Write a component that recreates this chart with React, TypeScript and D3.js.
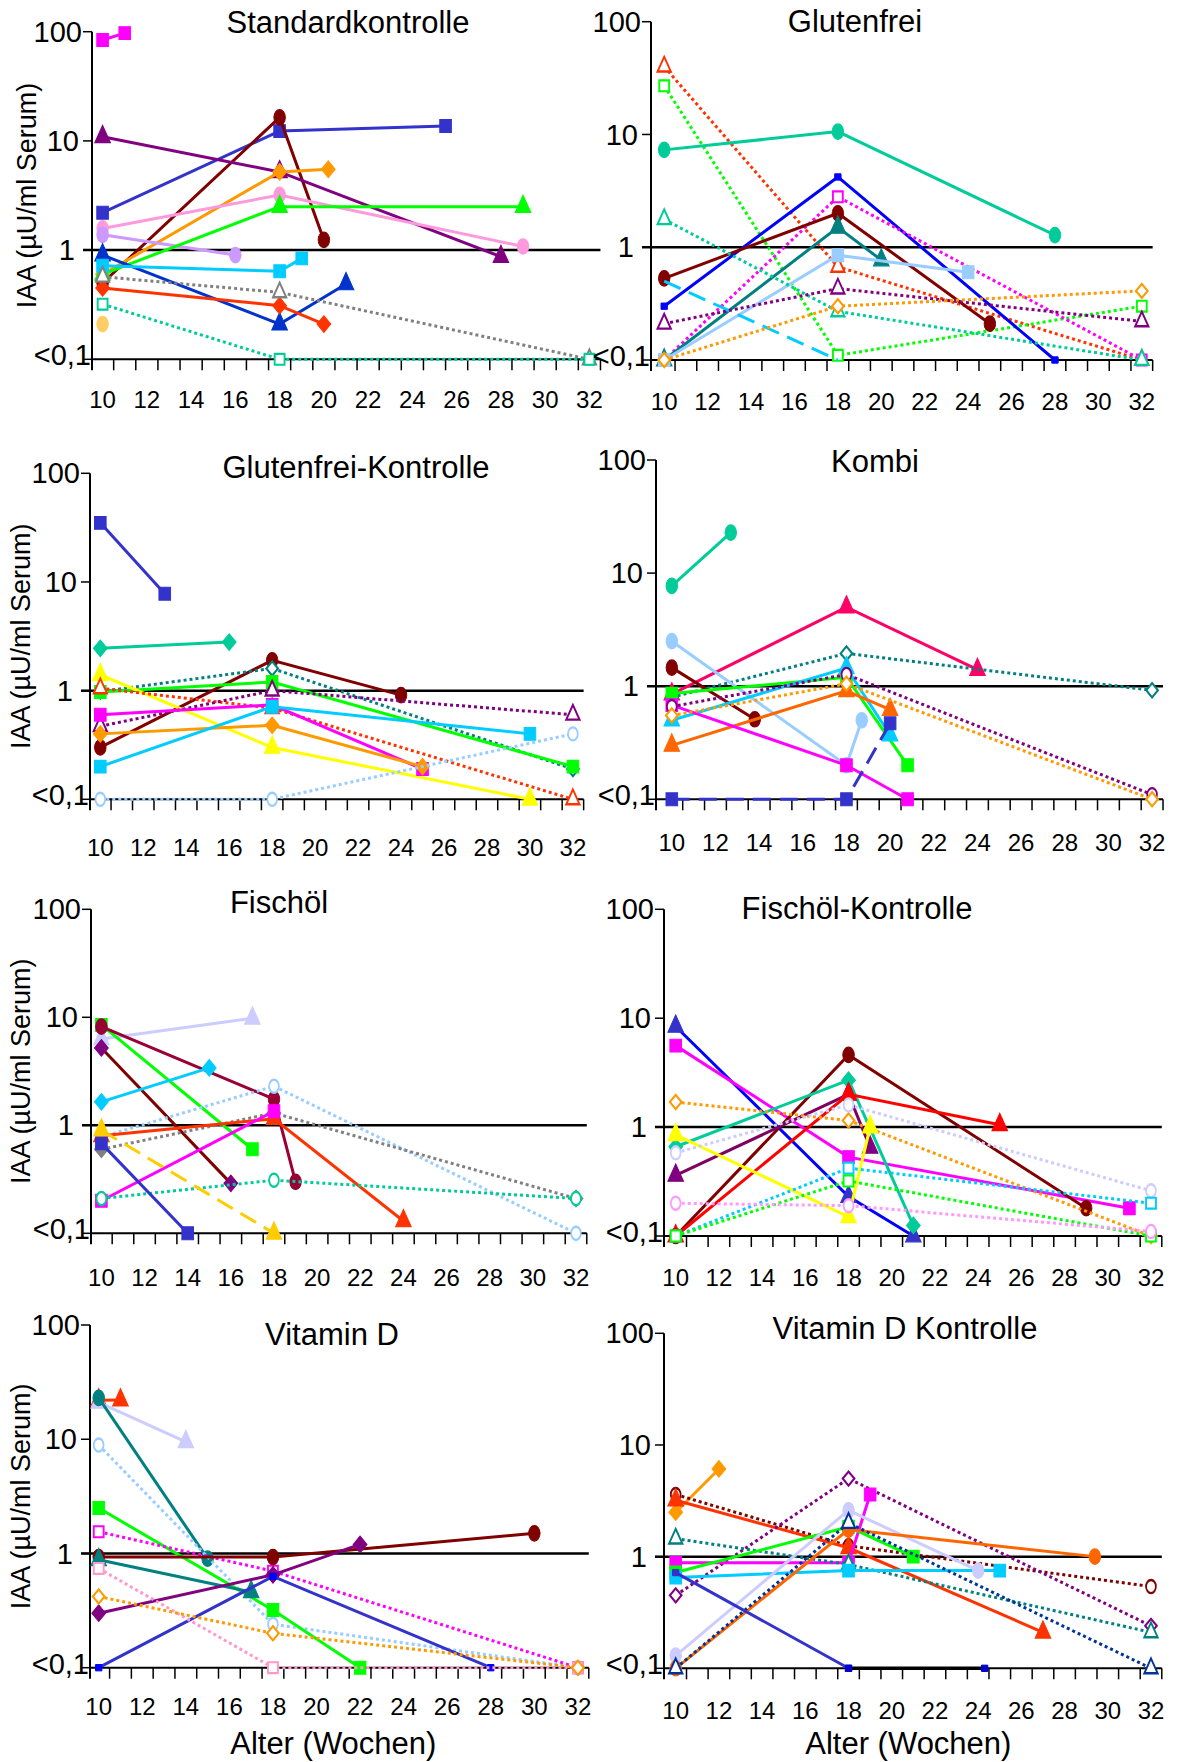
import React from "react";
import * as d3 from "d3";

const W = 1178;
const H = 1762;
const FONT = "'Liberation Sans', Arial, Helvetica, sans-serif";

const titles = [
  "Standardkontrolle",
  "Glutenfrei",
  "Glutenfrei-Kontrolle",
  "Kombi",
  "Fischöl",
  "Fischöl-Kontrolle",
  "Vitamin D",
  "Vitamin D Kontrolle",
];
const weekLabels = [10, 12, 14, 16, 18, 20, 22, 24, 26, 28, 30, 32];
const yTicks = [0.1, 1, 10, 100];
const yTickLabels = ["<0,1", "1", "10", "100"];
const yAxisLabel = "IAA (µU/ml Serum)";
const xAxisLabel = "Alter (Wochen)";

// [Woche, IAA] je Tier; <0,1 als 0.1
const stdPoints = [
  [[10, 84], [11, 97]],
  [[10, 2.2], [18, 12.3], [25.5, 13.7]],
  [[10, 0.5], [18, 16.4], [20, 1.24]],
  [[10, 10.9], [18, 5.2], [28, 0.87]],
  [[10, 0.6], [18, 5.2], [20.2, 5.5]],
  [[10, 1.58], [18, 3.2], [29, 1.08]],
  [[10, 1.38], [16, 0.9]],
  [[10, 0.6], [18, 2.5], [29, 2.5]],
  [[10, 0.9], [18, 0.21], [21, 0.49]],
  [[10, 0.72], [18, 0.64], [19, 0.84]],
  [[10, 0.45], [18, 0.31], [20, 0.21]],
  [[10, 0.57], [18, 0.41], [32, 0.1]],
  [[10, 0.32], [18, 0.1], [32, 0.1]],
  [[10, 0.21]],
];
const glfPoints = [
  [[10, 40], [18, 0.67], [32, 0.1]],
  [[10, 27], [18, 0.11], [32, 0.3]],
  [[10, 7.3], [18, 10.6], [28, 1.28]],
  [[10, 0.3], [18, 4.2], [28, 0.1]],
  [[10, 0.1], [18, 2.8], [32, 0.1]],
  [[10, 0.53], [18, 2.0], [25, 0.21]],
  [[10, 0.1], [18, 1.5], [20, 0.77]],
  [[10, 0.1], [18, 0.85], [24, 0.6]],
  [[10, 0.5], [18, 0.1]],
  [[10, 1.77], [18, 0.27], [32, 0.1]],
  [[10, 0.21], [18, 0.43], [32, 0.22]],
  [[10, 0.1], [18, 0.3], [32, 0.41]],
];
const glkPoints = [
  [[10, 35], [13, 7.8]],
  [[10, 2.45], [16, 2.8]],
  [[10, 0.3], [18, 1.9], [24, 0.91]],
  [[10, 0.98], [18, 1.6], [32, 0.19]],
  [[10, 0.97], [18, 1.2], [32, 0.2]],
  [[10, 1.4], [18, 0.3], [30, 0.1]],
  [[10, 1.05], [18, 0.69], [32, 0.1]],
  [[10, 0.47], [18, 1.0], [32, 0.6]],
  [[10, 0.6], [18, 0.74], [25, 0.19]],
  [[10, 0.4], [18, 0.48], [25, 0.2]],
  [[10, 0.2], [18, 0.71], [30, 0.4]],
  [[10, 0.1], [18, 0.1], [32, 0.4]],
];
const kombiPoints = [
  [[10, 7.7], [12.7, 22.8]],
  [[10, 0.85], [18, 5.0], [24, 1.4]],
  [[10, 0.8], [18, 1.95], [32, 0.92]],
  [[10, 2.5], [18, 0.2], [18.7, 0.5]],
  [[10, 1.46], [13.8, 0.51]],
  [[10, 0.86], [18, 1.2], [20.8, 0.2]],
  [[10, 0.5], [18, 1.45], [20, 0.37]],
  [[10, 0.3], [18, 0.91], [20, 0.62]],
  [[10, 0.68], [18, 0.2], [20.8, 0.1]],
  [[10, 0.66], [18, 1.27], [32, 0.11]],
  [[10, 0.55], [18, 1.05], [32, 0.1]],
  [[10, 0.1], [18, 0.1], [20, 0.47]],
];
const fischPoints = [
  [[10, 6.3], [17, 9.8]],
  [[10, 8.5], [17, 0.6]],
  [[10, 8.2], [18, 1.75], [19, 0.3]],
  [[10, 5.2], [16, 0.29]],
  [[10, 1.65], [15, 3.4]],
  [[10, 0.78], [18, 2.3], [32, 0.1]],
  [[10, 0.6], [18, 1.3], [32, 0.21]],
  [[10, 0.8], [18, 1.15], [24, 0.13]],
  [[10, 0.2], [18, 1.35]],
  [[10, 0.21], [18, 0.31], [32, 0.21]],
  [[10, 0.68], [14, 0.1]],
  [[10, 0.9], [18, 0.1]],
];
const fischKPoints = [
  [[10, 8.4], [18, 0.23], [21, 0.1]],
  [[10, 5.6], [18, 0.53], [31, 0.18]],
  [[10, 0.1], [18, 4.6], [29, 0.18]],
  [[10, 0.66], [18, 2.7], [21, 0.125]],
  [[10, 0.36], [18, 2.0], [19, 0.65]],
  [[10, 0.1], [18, 2.0], [25, 1.05]],
  [[10, 1.7], [18, 1.15], [32, 0.1]],
  [[10, 0.85], [18, 0.15], [19, 1.0]],
  [[10, 0.58], [18, 1.6], [32, 0.26]],
  [[10, 0.1], [18, 0.42], [32, 0.2]],
  [[10, 0.1], [18, 0.32], [32, 0.1]],
  [[10, 0.2], [18, 0.19], [32, 0.11]],
];
const vitDPoints = [
  [[10, 22], [11, 22]],
  [[10, 21], [14, 9.5]],
  [[10, 23], [15, 0.9]],
  [[10, 8.9], [18, 0.24], [32, 0.1]],
  [[10, 2.5], [18, 0.32], [22, 0.1]],
  [[10, 1.55], [18, 0.7], [32, 0.1]],
  [[10, 0.93], [18, 0.93], [30, 1.5]],
  [[10, 0.88], [17, 0.46]],
  [[10, 0.3], [18, 0.65], [22, 1.2]],
  [[10, 0.1], [18, 0.63], [28, 0.1]],
  [[10, 0.74], [18, 0.1], [32, 0.1]],
  [[10, 0.42], [18, 0.2], [32, 0.1]],
];
const vitDKPoints = [
  [[10, 2.5], [12, 6.1]],
  [[10, 3.6], [18, 1.25], [32, 0.54]],
  [[10, 3.2], [18, 1.2], [27, 0.21]],
  [[10, 0.45], [18, 5.0], [32, 0.24]],
  [[10, 0.88], [18, 0.88], [19, 3.6]],
  [[10, 1.45], [18, 0.85], [32, 0.21]],
  [[10, 0.72], [18, 1.85], [21, 1.0]],
  [[10, 0.65], [18, 0.75], [25, 0.75]],
  [[10, 0.13], [18, 2.6], [24, 0.75]],
  [[10, 0.1], [18, 1.75], [29.4, 1.0]],
  [[10, 0.1], [18, 2.0], [32, 0.1]],
  [[10, 0.72], [18, 0.1]],
  [[18, 0.1], [24.3, 0.1]],
];

// Darstellung: "Linienfarbe Marker f|o Strich [Markerfarbe]"
const stdLooks = [
  "#ff00ff sq f solid", "#3333cc sq f solid", "#800000 ci f solid", "#800080 tr f solid",
  "#ff9900 di f solid", "#ff99dd ci f solid", "#cc99ff ci f solid", "#00ff00 tr f solid",
  "#0033cc tr f solid", "#00ccff sq f solid", "#ff3300 di f solid", "#808080 tr o dot",
  "#00cc99 sq o dot", "#ffcc66 ci f solid",
];
const glfLooks = [
  "#ff3300 tr o dot", "#00ff00 sq o dot", "#00cc99 ci f solid", "#0000ff sm f solid",
  "#ff00ff sq o dot", "#800000 ci f solid", "#008080 tr f solid", "#99ccff sq f solid",
  "#00ccff none f dash", "#00cc99 tr o dot", "#800080 tr o dot", "#ff9900 di o dot",
];
const glkLooks = [
  "#3333cc sq f solid", "#00cc99 di f solid", "#800000 ci f solid", "#008080 di o dot",
  "#00ff00 sq f solid", "#ffff00 tr f solid", "#ff3300 tr o dot", "#800080 tr o dot",
  "#ff00ff sq f solid", "#ff9900 di f solid", "#00ccff sq f solid", "#99ccff ci o dot",
];
const kombiLooks = [
  "#00cc99 ci f solid", "#ff0066 tr f solid", "#008080 di o dot", "#99ccff ci f solid",
  "#800000 ci f solid", "#00ff00 sq f solid", "#00ccff tr f solid", "#ff6600 tr f solid",
  "#ff00ff sq f solid", "#800080 ci o dot", "#ff9900 di o dot", "#3333cc sq f dash",
];
const fischLooks = [
  "#ccccff tr f solid", "#00ff00 sq f solid", "#990033 ci f solid", "#800000 di f solid #800080",
  "#00ccff di f solid", "#99ccff ci o dot", "#808080 di f dot", "#ff3300 tr f solid",
  "#ff00ff sq f solid", "#00cc99 ci o dot", "#3333cc sq f solid", "#ffcc00 tr f dash",
];
const fischKLooks = [
  "#0000ff tr f solid #3333cc", "#ff00ff sq f solid", "#800000 ci f solid", "#00cc99 di f solid",
  "#800060 tr f solid #800080", "#ff0000 tr f solid", "#ff9900 di o dot", "#ffff00 tr f solid",
  "#ccccff ci o dot", "#00ccff sq o dot", "#00ff00 sq o dot", "#ff99ff ci o dot",
];
const vitDLooks = [
  "#ff3300 tr f solid", "#ccccff tr f solid", "#008080 ci f solid", "#99ccff ci o dot",
  "#00ff00 sq f solid", "#ff00ff sq o dot", "#800000 ci f solid", "#008080 tr f solid",
  "#800080 di f solid", "#3333cc sm f solid #0000ff", "#ff99cc sq o dot", "#ff9900 di o dot",
];
const vitDKLooks = [
  "#ff9900 di f solid", "#800000 ci o dot", "#ff3300 tr f solid", "#800080 di o dot",
  "#ff00ff sq f solid", "#008080 tr o dot", "#00ff00 sq f solid", "#00ccff sq f solid",
  "#ccccff ci f solid", "#ff6600 ci f solid", "#003399 tr o dot", "#3333cc sm f solid",
  "#000000 sm f solid #0000cc",
];

const panelPoints = [stdPoints, glfPoints, glkPoints, kombiPoints, fischPoints, fischKPoints, vitDPoints, vitDKPoints];
const panelLooks = [stdLooks, glfLooks, glkLooks, kombiLooks, fischLooks, fischKLooks, vitDLooks, vitDKLooks];

// Lage der Einzeldiagramme im Bild
const frames = [
  { axisX: 92, w10: 102.6, w32: 589.4, y100: 31.7, y01: 359.3, tx: 348, ty: 33, labY: 400, labX: 36 },
  { axisX: 651, w10: 664.2, w32: 1141.8, y100: 21.7, y01: 360, tx: 855, ty: 32, labY: 402 },
  { axisX: 90, w10: 100.3, w32: 572.9, y100: 473.3, y01: 799.3, tx: 356, ty: 478, labY: 848, labX: 30 },
  { axisX: 656, w10: 671.8, w32: 1152.1, y100: 460, y01: 799.3, tx: 875, ty: 472, labY: 843 },
  { axisX: 91, w10: 101.4, w32: 576, y100: 909.3, y01: 1233.3, tx: 279, ty: 913, labY: 1278, labX: 30 },
  { axisX: 664, w10: 675.7, w32: 1151, y100: 909.3, y01: 1236, tx: 857, ty: 919, labY: 1278 },
  { axisX: 90, w10: 98.7, w32: 577.9, y100: 1325, y01: 1667.7, tx: 332, ty: 1345, labY: 1707, labX: 30 },
  { axisX: 664, w10: 675.7, w32: 1151, y100: 1333.3, y01: 1668.3, tx: 905, ty: 1339, labY: 1711 },
];

const dashes = { solid: undefined, dot: "3 3", dash: "18 9" };
const symbolTypes = {
  sq: d3.symbolSquare,
  sm: d3.symbolSquare,
  ci: d3.symbolCircle,
  tr: d3.symbolTriangle,
  di: d3.symbolSquare,
};
const symbolSizes = { sq: 150, sm: 40, ci: 135, tr: 125, di: 105 };
// Marker sind im Original etwas hochgezogen
const symbolStretch = { sq: "scale(0.95,1.05)", sm: "", ci: "scale(0.88,1.18)", tr: "scale(0.92,1.18)", di: "scale(0.95,1.15) rotate(45)" };
const yLabelGap = [1, 17, 13, 10];

const parseLook = (s) => {
  const [color, marker, f, dash, mcolor] = s.split(" ");
  return { color, marker, filled: f === "f", dash, mcolor: mcolor || color };
};

const Marker = ({ kind, cx, cy, color, filled }) => {
  if (kind === "none") return null;
  const size = filled ? symbolSizes[kind] : symbolSizes[kind] * 0.72;
  const d = d3.symbol().type(symbolTypes[kind]).size(size)();
  return (
    <path
      d={d}
      transform={`translate(${cx},${cy}) ${symbolStretch[kind]}`}
      fill={filled ? color : "white"}
      stroke={color}
      strokeWidth={filled ? 1 : 2}
    />
  );
};

const Panel = ({ index }) => {
  const f = frames[index];
  const points = panelPoints[index];
  const looks = panelLooks[index];
  const x = d3.scaleLinear().domain([10, 32]).range([f.w10, f.w32]);
  const y = d3.scaleLog().domain([0.1, 100]).range([f.y01, f.y100]);
  const right = x(32.5);
  const line = d3
    .line()
    .x((d) => x(d[0]))
    .y((d) => y(d[1]));
  const minorTicks = d3.range(10.5, 33, 1);

  return (
    <g>
      {/* x-Achse */}
      <line x1={f.axisX} x2={right} y1={f.y01} y2={f.y01} stroke="black" strokeWidth={2} />
      {minorTicks.map((w) => (
        <line key={w} x1={x(w)} x2={x(w)} y1={f.y01} y2={f.y01 + 11} stroke="black" strokeWidth={1.5} />
      ))}
      {weekLabels.map((w) => (
        <text key={w} x={x(w)} y={f.labY} dy="0.35em" textAnchor="middle" fontSize={24} fontFamily={FONT}>
          {w}
        </text>
      ))}
      {/* y-Achse */}
      <line x1={f.axisX} x2={f.axisX} y1={f.y100} y2={f.y01 + 11} stroke="black" strokeWidth={2} />
      {yTicks.map((t, i) => (
        <g key={t}>
          <line x1={f.axisX - 9} x2={f.axisX} y1={y(t)} y2={y(t)} stroke="black" strokeWidth={1.5} />
          <text
            x={f.axisX - yLabelGap[i]}
            y={y(t) - (t === 0.1 ? 4 : 0)}
            dy="0.35em"
            textAnchor="end"
            fontSize={29}
            fontFamily={FONT}
          >
            {yTickLabels[i]}
          </text>
        </g>
      ))}
      {/* Referenzlinie bei 1 */}
      <line x1={f.axisX - 9} x2={right} y1={y(1)} y2={y(1)} stroke="black" strokeWidth={2.5} />

      {points.map((pts, i) => {
        const lk = parseLook(looks[i]);
        return (
          <g key={i}>
            {pts.length > 1 && (
              <path
                d={line(pts)}
                fill="none"
                stroke={lk.color}
                strokeWidth={lk.color === "#000000" ? 3.5 : 3}
                strokeDasharray={dashes[lk.dash]}
              />
            )}
            {pts.map((p, j) => (
              <Marker key={j} kind={lk.marker} cx={x(p[0])} cy={y(p[1])} color={lk.mcolor} filled={lk.filled} />
            ))}
          </g>
        );
      })}

      <text x={f.tx} y={f.ty} textAnchor="middle" fontSize={31} fontFamily={FONT}>
        {titles[index]}
      </text>
      {f.labX !== undefined && (
        <text
          transform={`translate(${f.labX},${(f.y100 + f.y01) / 2}) rotate(-90)`}
          textAnchor="middle"
          fontSize={27}
          fontFamily={FONT}
        >
          {yAxisLabel}
        </text>
      )}
      {index >= 6 && (
        <text x={(f.w10 + f.w32) / 2 - 5} y={1754} textAnchor="middle" fontSize={31} fontFamily={FONT}>
          {xAxisLabel}
        </text>
      )}
    </g>
  );
};

const App = () => (
  <svg
    width={W}
    height={H}
    viewBox={`0 0 ${W} ${H}`}
    style={{ position: "absolute", left: 0, top: 0, background: "white" }}
  >
    {frames.map((_, i) => (
      <Panel key={i} index={i} />
    ))}
  </svg>
);

export default App;
